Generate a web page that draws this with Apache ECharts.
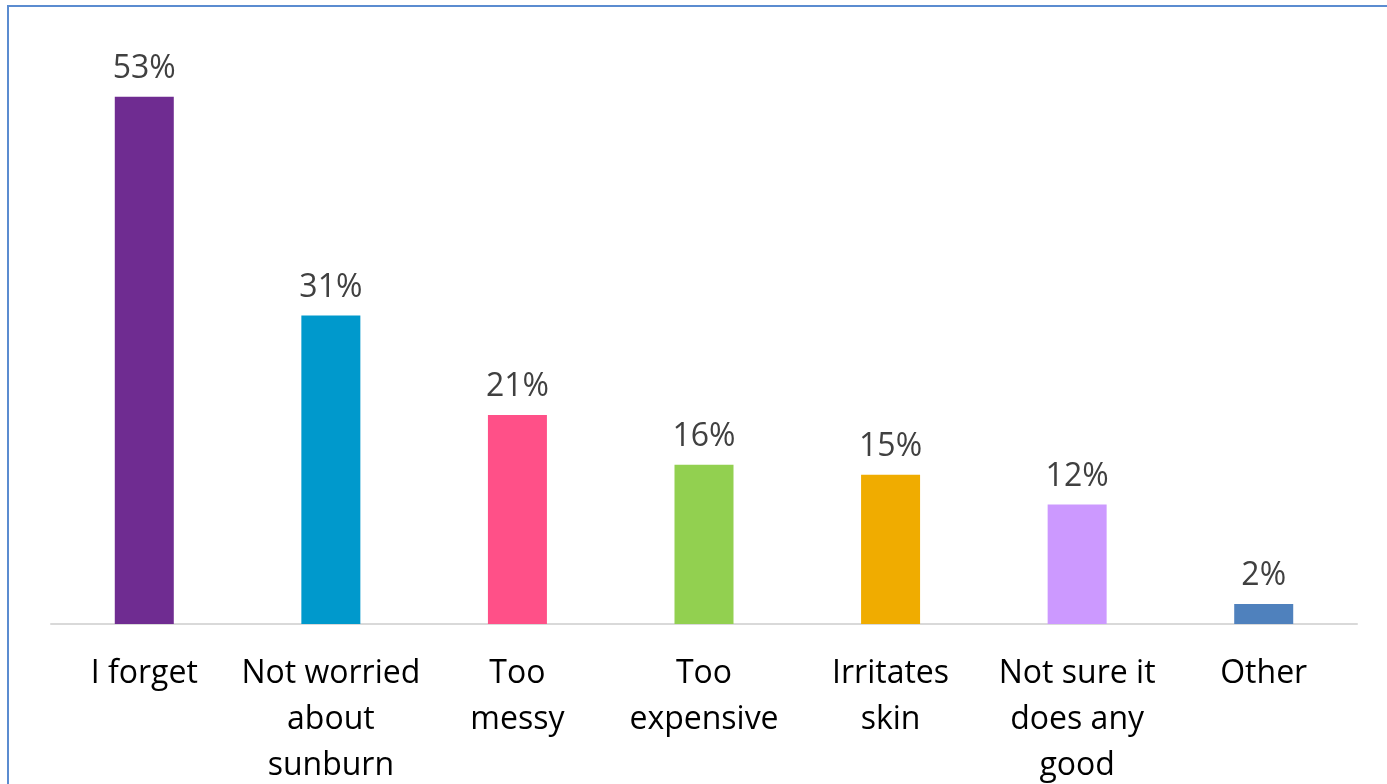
<!DOCTYPE html>
<html>
<head>
<meta charset="utf-8">
<script src="https://cdn.jsdelivr.net/npm/echarts@6/dist/echarts.min.js"></script>
<style>
  html, body { margin: 0; padding: 0; background: #ffffff; overflow: hidden; }
  #frame {
    position: absolute; left: 7px; top: 5px; width: 1400px; height: 800px;
    border: 2px solid #5b8cd0; box-sizing: border-box;
  }
  #chart { position: absolute; left: 0; top: 0; width: 1387px; height: 784px; }
</style>
</head>
<body>
<div id="frame"></div>
<div id="chart"></div>
<script>
// Reasons given for not using sunscreen (share of respondents, %)
const categories = [
  'I forget',
  'Not worried\nabout\nsunburn',
  'Too\nmessy',
  'Too\nexpensive',
  'Irritates\nskin',
  'Not sure it\ndoes any\ngood',
  'Other'
];
const values = [53, 31, 21, 16, 15, 12, 2];
const barColors = ['#6f2c91', '#0099cc', '#ff5088', '#92d050', '#f0ac00', '#cc99ff', '#4f81bd'];

const chart = echarts.init(document.getElementById('chart'), null, { renderer: 'canvas' });

chart.setOption({
  animation: false,
  backgroundColor: 'transparent',
  grid: { left: 51, right: 30, top: 27, bottom: 160, containLabel: false, outerBoundsMode: 'none' },
  xAxis: {
    type: 'category',
    data: categories,
    axisLine: { show: true, lineStyle: { color: '#d9d9d9', width: 2 } },
    axisTick: { show: false },
    axisLabel: {
      interval: 0,
      color: '#000000',
      fontFamily: 'Open Sans',
      fontSize: 32,
      lineHeight: 46,
      margin: 27,
      align: 'center'
    }
  },
  yAxis: {
    type: 'value',
    min: 0,
    max: 60,
    show: false,
    splitLine: { show: false }
  },
  series: [{
    type: 'bar',
    data: values.map((v, i) => ({ value: v, itemStyle: { color: barColors[i] } })),
    barWidth: 59,
    label: {
      show: true,
      position: 'top',
      distance: 12,
      formatter: '{c}%',
      color: '#404040',
      fontFamily: 'Open Sans',
      fontSize: 32
    }
  }]
});
</script>
</body>
</html>
